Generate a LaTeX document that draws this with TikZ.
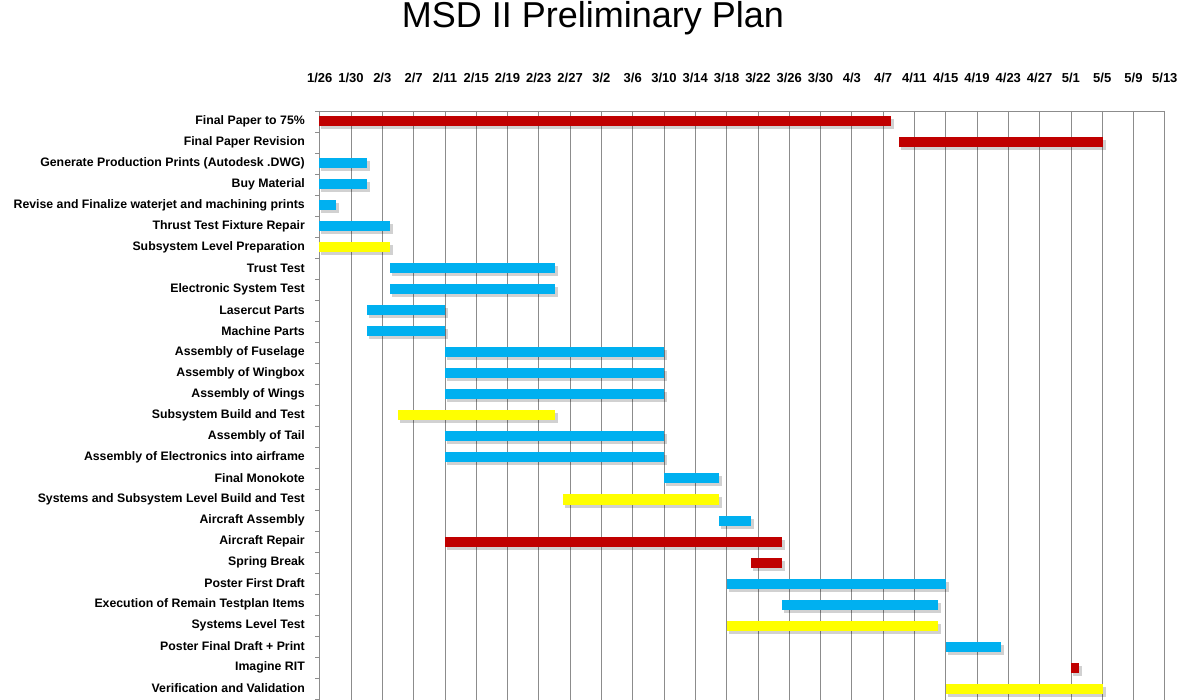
\documentclass[tikz,border=0pt]{standalone}
\usepackage{fontspec}
\setmainfont{Liberation Sans}
\definecolor{cred}{HTML}{C00000}
\definecolor{cblue}{HTML}{00B0F0}
\definecolor{cyel}{HTML}{FFFF00}
\definecolor{cgrid}{HTML}{8C8C8C}
\begin{document}
\begin{tikzpicture}[x=1pt,y=-1pt,
  lab/.style={anchor=east,inner sep=0pt,font=\bfseries\fontsize{12.3}{14}\selectfont},
  dlab/.style={anchor=center,inner sep=0pt,font=\bfseries\fontsize{13}{15}\selectfont},
  grid/.style={draw=cgrid,line width=0.8pt},
  shadowbar/.style={fill=black,opacity=0.18},
]
\useasboundingbox (0,0) rectangle (1184,700);
\node[inner sep=0pt,font=\fontsize{36}{42}\selectfont] (title) at (593,18) {MSD II Preliminary Plan};
% grid
\foreach \i/\m/\d in {0/1/26,1/1/30,2/2/3,3/2/7,4/2/11,5/2/15,6/2/19,7/2/23,8/2/27,9/3/2,10/3/6,11/3/10,12/3/14,13/3/18,14/3/22,15/3/26,16/3/30,17/4/3,18/4/7,19/4/11,20/4/15,21/4/19,22/4/23,23/4/27,24/5/1,25/5/5,26/5/9,27/5/13}{
  \pgfmathsetmacro{\gx}{319.7+\i*31.3}
  \draw[grid] (\gx,111) -- (\gx,700);
  \node[dlab] (d\i) at (\gx,78) {\m/\d};
}
\draw[grid] (315,111) -- (1165,111);
\foreach \k in {1,...,28}{
  \draw[grid] (315,{111+\k*21}) -- (319.7,{111+\k*21});
}
% bars
\foreach \r/\a/\b/\c/\t in {
 0/319/891/cred/{Final Paper to 75\%},
 1/899/1103/cred/{Final Paper Revision},
 2/319/367/cblue/{Generate Production Prints (Autodesk .DWG)},
 3/319/367/cblue/{Buy Material},
 4/319/336/cblue/{Revise and Finalize waterjet and machining prints},
 5/319/390/cblue/{Thrust Test Fixture Repair},
 6/319/390/cyel/{Subsystem Level Preparation},
 7/390/555/cblue/{Trust Test},
 8/390/555/cblue/{Electronic System Test},
 9/367/445/cblue/{Lasercut Parts},
 10/367/445/cblue/{Machine Parts},
 11/445/664/cblue/{Assembly of Fuselage},
 12/445/664/cblue/{Assembly of Wingbox},
 13/445/664/cblue/{Assembly of Wings},
 14/398/555/cyel/{Subsystem Build and Test},
 15/445/664/cblue/{Assembly of Tail},
 16/445/664/cblue/{Assembly of Electronics into airframe},
 17/664/719/cblue/{Final Monokote},
 18/563/719/cyel/{Systems and Subsystem Level Build and Test},
 19/719/751/cblue/{Aircraft Assembly},
 20/445/782/cred/{Aircraft Repair},
 21/751/782/cred/{Spring Break},
 22/727/946/cblue/{Poster First Draft},
 23/782/938/cblue/{Execution of Remain Testplan Items},
 24/727/938/cyel/{Systems Level Test},
 25/946/1001/cblue/{Poster Final Draft + Print},
 26/1071/1079/cred/{Imagine RIT},
 27/946/1103/cyel/{Verification and Validation}}{
  \pgfmathsetmacro{\cy}{121.5+\r*21}
  \node[lab] (l\r) at (305,\cy) {\t};
  \fill[shadowbar] (\a+2,\cy-2) rectangle (\b+3,\cy+8);
  \fill[\c] (\a,\cy-5) rectangle (\b,\cy+5);
}
\end{tikzpicture}
\end{document}
